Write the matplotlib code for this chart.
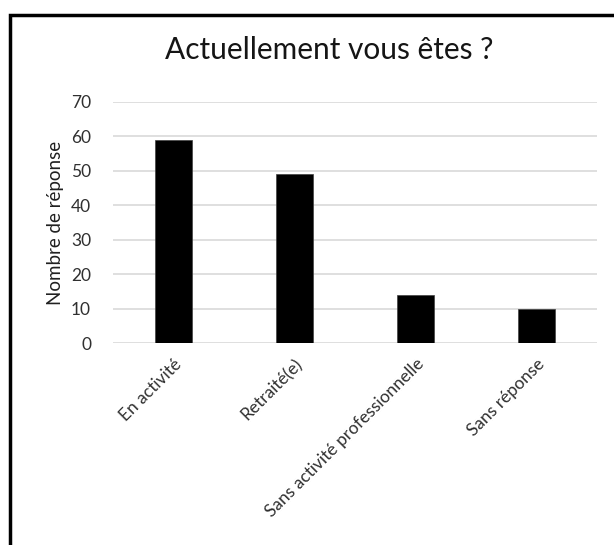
import matplotlib
matplotlib.use('Agg')
import matplotlib.pyplot as plt
from matplotlib.patches import Rectangle

## survey answers
categories = ['En activité', 'Retraité(e)', 'Sans activité professionnelle', 'Sans réponse']
responses = [59, 49, 14, 10]
yticks = [0, 10, 20, 30, 40, 50, 60, 70]

plt.rcParams['font.family'] = ['Lato', 'DejaVu Sans']

fig = plt.figure(figsize=(6.14, 5.45), dpi=100)
ax = fig.add_axes([0.1845, 0.370, 0.7875, 0.4434])

xpos = range(len(categories))
ax.bar(xpos, responses, width=0.31, color='black', edgecolor='#404040', linewidth=0.5, zorder=3)

ax.set_xlim(-0.5, len(categories) - 0.5)
ax.set_ylim(0, 70)
ax.set_yticks(yticks)
ax.set_xticks(list(xpos))
ax.set_xticklabels(categories, rotation=45, ha='right', rotation_mode='anchor',
                   fontsize=12.5, color='#303030')
ax.tick_params(axis='y', labelsize=12.5, colors='#303030', length=0, pad=16)
ax.tick_params(axis='x', length=0, pad=9)

# light grid, no frame
ax.grid(axis='y', color='#d9d9d9', linewidth=1.2, zorder=0)
for s in ax.spines.values():
    s.set_visible(False)

ax.set_ylabel('Nombre de réponse', fontsize=13.5, color='#202020', labelpad=5)
fig.text(0.536, 0.908, 'Actuellement vous êtes ?', ha='center', va='center',
         fontsize=21.5, color='#151515')

# chart frame (cropped at right and bottom)
fig.patches.append(Rectangle((10 / 614, -0.1), 1.2, 1 - 15 / 545 + 0.1,
                             transform=fig.transFigure, fill=False,
                             edgecolor='black', linewidth=2.5))

fig.savefig('out.png', dpi=100)
